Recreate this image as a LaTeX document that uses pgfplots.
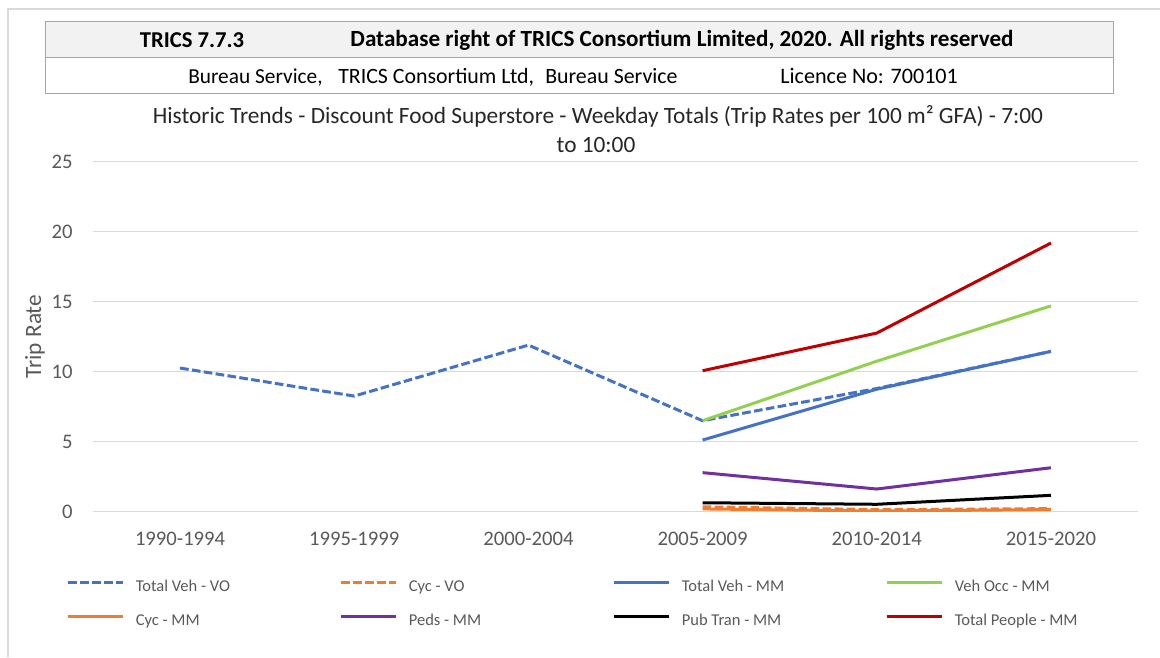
\documentclass[border=0pt]{standalone}
\usepackage{pgfplots}
\pgfplotsset{compat=1.18}
\usepackage{fontspec}
\setmainfont{Carlito}
\definecolor{exblue}{HTML}{4472C4}
\definecolor{exorange}{HTML}{ED7D31}
\definecolor{exgreen}{HTML}{92D050}
\definecolor{expurple}{HTML}{7030A0}
\definecolor{exred}{HTML}{C00000}
\definecolor{txtgray}{HTML}{595959}
\definecolor{gridgray}{HTML}{D9D9D9}
\definecolor{hdrfill}{HTML}{F2F2F2}
\definecolor{hdrline}{HTML}{A6A6A6}
\begin{document}
\begin{tikzpicture}
\begin{scope}[x=0.75pt,y=-0.75pt]
\path (0,0) rectangle (1160,657);
\draw[gridgray, line width=1.5pt] (7.5,657) -- (7.5,8.5) -- (1160,8.5);
\fill[hdrfill] (45,21) rectangle (1113,57);
\draw[hdrline, line width=0.75pt] (45,21) rectangle (1113,93);
\draw[hdrline, line width=0.75pt] (45,57) -- (1113,57);
\node[font=\fontsize{17}{19}\selectfont\bfseries] at (192,40.5) {TRICS 7.7.3};
\node[font=\fontsize{17.35}{19}\selectfont\bfseries] at (682,40.5) {Database right of TRICS Consortium Limited, 2020. All rights reserved};
\node[font=\fontsize{16}{18}\selectfont, anchor=base west, inner sep=0pt] at (188,83) {Bureau Service,};
\node[font=\fontsize{16.4}{18}\selectfont, anchor=base west, inner sep=0pt] at (338,83) {TRICS Consortium Ltd,};
\node[font=\fontsize{16.4}{18}\selectfont, anchor=base west, inner sep=0pt] at (545,83) {Bureau Service};
\node[font=\fontsize{16.6}{18}\selectfont, anchor=base west, inner sep=0pt] at (780,83) {Licence No: 700101};
\node[font=\fontsize{17.5}{19}\selectfont, text=black!85] at (598,116.5) {Historic Trends - Discount Food Superstore - Weekday Totals (Trip Rates per 100 m² GFA) - 7:00};
\node[font=\fontsize{17.5}{19}\selectfont, text=black!85] at (596,145) {to 10:00};
\end{scope}
\begin{axis}[
  at={(69.75pt,-383.775pt)}, anchor=south west,
  scale only axis, width=783.75pt, height=262.5pt,
  xmin=-0.5, xmax=5.5, ymin=0, ymax=25,
  xtick={0,1,2,3,4,5},
  xticklabels={1990-1994,1995-1999,2000-2004,2005-2009,2010-2014,2015-2020},
  ytick={0,5,10,15,20,25},
  ymajorgrids, grid style={gridgray, line width=0.75pt},
  axis line style={draw=none}, major tick style={draw=none},
  tick label style={font=\fontsize{15.5}{17}\selectfont, text=txtgray},
  /pgf/number format/assume math mode=true,
  yticklabel style={anchor=east, inner sep=0pt, xshift=-14.25pt},
  xticklabel style={anchor=center, inner sep=0pt, yshift=-20.5pt},
  every axis y label/.style={at={(axis description cs:-0.0555,0.5)}, rotate=90, anchor=center, font=\fontsize{17.5}{19}\selectfont, text=txtgray},
  ylabel={Trip Rate},
  legend columns=4,
  legend style={at={(axis description cs:-0.02536,-0.1935)}, anchor=north west, draw=none, fill=none,
    inner sep=0pt, outer sep=0pt,
    font=\fontsize{12.4}{14}\selectfont, text=txtgray,
    nodes={inner sep=0pt, text height=9pt, text depth=3pt},
    row sep=13.5pt,
    /tikz/every odd column/.append style={column sep=8.5pt}},
  legend image code/.code={\draw[#1] (0pt,3.5pt) -- (41.25pt,3.5pt);},
  line width=2.25pt,
]
\addplot[exblue, line width=2.25pt, dash pattern=on 6.5pt off 2.5pt] coordinates {(0,10.26) (1,8.26) (2,11.9) (3,6.5) (4,8.8) (5,11.45)};
\addlegendentry{\makebox[152.75pt][l]{Total Veh - VO}}
\addplot[exorange, line width=2.25pt, dash pattern=on 6.5pt off 2.5pt] coordinates {(3,0.35) (4,0.15) (5,0.22)};
\addlegendentry{\makebox[152.75pt][l]{Cyc - VO}}
\addplot[exblue, line width=2.25pt] coordinates {(3,5.12) (4,8.75) (5,11.45)};
\addlegendentry{\makebox[152.75pt][l]{Total Veh - MM}}
\addplot[exgreen, line width=2.25pt] coordinates {(3,6.5) (4,10.75) (5,14.7)};
\addlegendentry{\makebox[152.75pt][l]{Veh Occ - MM}}
\addplot[exorange, line width=2.25pt] coordinates {(3,0.2) (4,0.05) (5,0.15)};
\addlegendentry{\makebox[152.75pt][l]{Cyc - MM}}
\addplot[expurple, line width=2.25pt] coordinates {(3,2.79) (4,1.62) (5,3.14)};
\addlegendentry{\makebox[152.75pt][l]{Peds - MM}}
\addplot[black, line width=2.25pt] coordinates {(3,0.64) (4,0.53) (5,1.17)};
\addlegendentry{\makebox[152.75pt][l]{Pub Tran - MM}}
\addplot[exred, line width=2.25pt] coordinates {(3,10.07) (4,12.76) (5,19.19)};
\addlegendentry{\makebox[152.75pt][l]{Total People - MM}}
\end{axis}
\pgfresetboundingbox
\path (0pt,0pt) rectangle (870pt,-492.75pt);
\end{tikzpicture}
\end{document}
